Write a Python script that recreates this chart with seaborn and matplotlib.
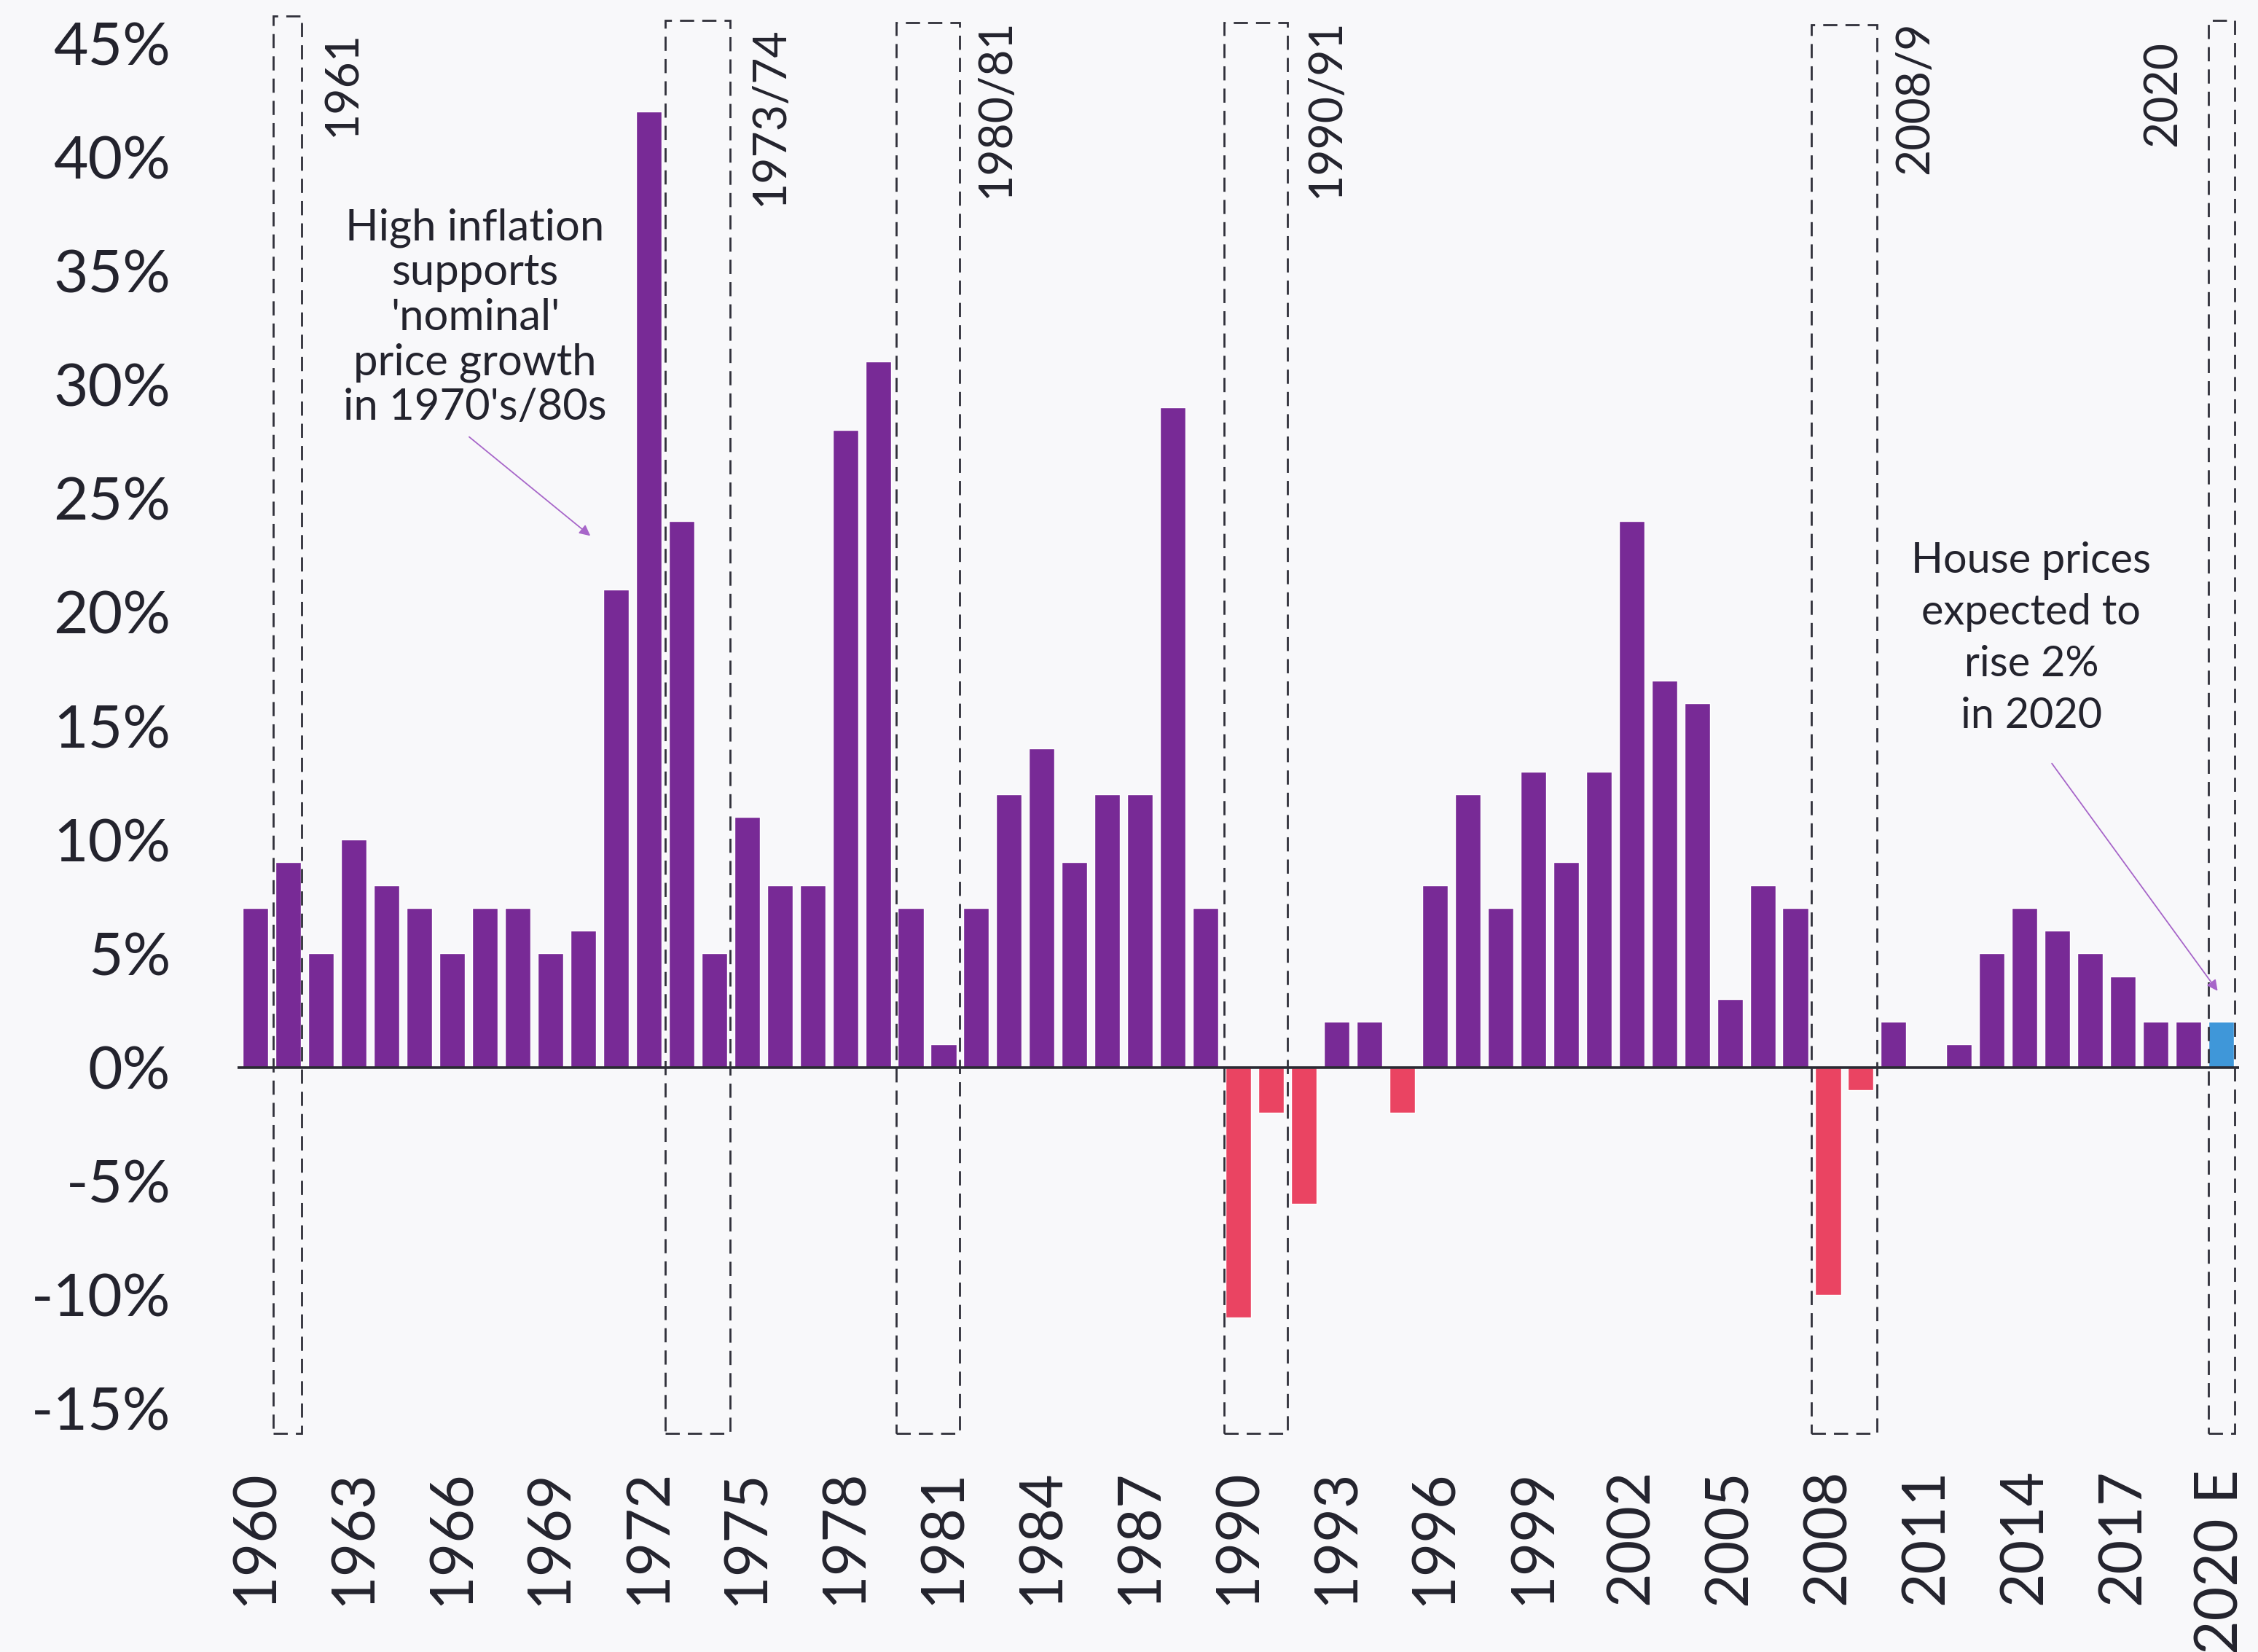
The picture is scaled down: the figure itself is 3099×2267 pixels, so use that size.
import matplotlib
matplotlib.use("Agg")
import matplotlib.pyplot as plt
import seaborn as sns
import pandas as pd
from matplotlib.patches import Rectangle

# ---------------- data ----------------
years = [str(y) for y in range(1960, 2020)] + ["2020 E"]
growth = [7, 9, 5, 10, 8, 7, 5, 7, 7, 5,
          6, 21, 42, 24, 5, 11, 8, 8, 28, 31,
          7, 1, 7, 12, 14, 9, 12, 12, 29, 7,
          -11, -2, -6, 2, 2, -2, 8, 12, 7, 13,
          9, 13, 24, 17, 16, 3, 8, 7, -10, -1,
          2, 0, 1, 5, 7, 6, 5, 4, 2, 2, 2]
y_ticks = [-15, -10, -5, 0, 5, 10, 15, 20, 25, 30, 35, 40, 45]
y_tick_labels = [f"{v}%" for v in y_ticks]
x_tick_labels = years[::3]

period_labels = ["1961", "1973/74", "1980/81", "1990/91", "2008/9", "2020"]
period_first = ["1961", "1973", "1980", "1990", "2008", "2020 E"]
period_last = ["1961", "1974", "1981", "1991", "2009", "2020 E"]

note_inflation = "High inflation\nsupports\n'nominal'\nprice growth\nin 1970's/80s"
note_forecast = "House prices\nexpected to\nrise 2%\nin 2020"

# ---------------- style ----------------
BG = "#f8f8fa"
TXT = "#23232d"
PURPLE = "#782a96"
RED = "#ea4462"
BLUE = "#3f97d9"
ARROW = "#a766c9"

kind = ["forecast" if y == "2020 E" else ("fall" if v < 0 else "rise")
        for y, v in zip(years, growth)]
df = pd.DataFrame({"year": years, "growth": growth, "kind": kind})

sns.set_style("white")
plt.rcParams["font.family"] = ["Lato", "DejaVu Sans"]

fig = plt.figure(figsize=(30.99, 22.67), dpi=100, facecolor=BG)
ax = fig.add_axes([0.1052, 0.1267, 0.8865, 0.8678])
ax.set_facecolor(BG)

sns.barplot(data=df, x="year", y="growth", hue="kind", order=years,
            palette={"rise": PURPLE, "fall": RED, "forecast": BLUE},
            dodge=False, width=0.78, legend=False, ax=ax, saturation=1)

ax.set_xlim(-0.55, 60.55)
ax.set_ylim(-16.5, 46.5)
ax.axhline(0, color="#2a2a33", lw=2.6, zorder=3)

for s in ax.spines.values():
    s.set_visible(False)

ax.set_yticks(y_ticks)
ax.set_yticklabels(y_tick_labels)
ax.set_xticks([years.index(t) for t in x_tick_labels])
ax.set_xticklabels(x_tick_labels, rotation=90)
ax.tick_params(axis="y", length=0, pad=66, labelsize=59, labelcolor=TXT)
ax.tick_params(axis="x", length=0, pad=26, labelsize=58, labelcolor=TXT)
ax.set_xlabel("")
ax.set_ylabel("")

# dashed period boxes
box_left_off = [0.46, 0.50, 0.44, 0.44, 0.51, 0.40]
box_right_off = [0.41, 0.48, 0.49, 0.50, 0.48, 0.42]
box_top = [46.2, 46.0, 45.9, 45.9, 45.8, 46.0]
label_dx = [1.25, 1.23, 1.12, 1.18, 1.18, -1.38]
label_top = [45.55, 45.75, 46.1, 46.1, 45.95, 45.1]
box_bot = -16.1
for i, lab in enumerate(period_labels):
    i0 = years.index(period_first[i])
    i1 = years.index(period_last[i])
    x0 = i0 - box_left_off[i]
    x1 = i1 + box_right_off[i]
    ax.add_patch(Rectangle((x0, box_bot), x1 - x0, box_top[i] - box_bot,
                           fill=False, ec="#30303a", lw=2.0,
                           ls=(0, (7, 4)), zorder=4, clip_on=False))
    lx = (x1 if label_dx[i] > 0 else x0) + label_dx[i]
    ax.text(lx, label_top[i], lab, rotation=90, ha="center", va="top",
            fontsize=45, color=TXT, zorder=5)

# annotations
ax.text(6.7, 32.95, note_inflation, ha="center", va="center",
        fontsize=43, color=TXT, linespacing=1.17, zorder=5)
ax.annotate("", xy=(10.22, 23.35), xytext=(6.52, 27.7),
            arrowprops=dict(arrowstyle="-|>", color=ARROW, lw=1.3,
                            mutation_scale=22, shrinkA=0, shrinkB=0),
            zorder=5)

ax.text(54.2, 18.85, note_forecast, ha="center", va="center",
        fontsize=41.5, color=TXT, linespacing=1.42, zorder=5)
ax.annotate("", xy=(59.89, 3.35), xytext=(54.83, 13.35),
            arrowprops=dict(arrowstyle="-|>", color=ARROW, lw=1.3,
                            mutation_scale=22, shrinkA=0, shrinkB=0),
            zorder=5)

fig.savefig("out.png", dpi=100, facecolor=BG)
